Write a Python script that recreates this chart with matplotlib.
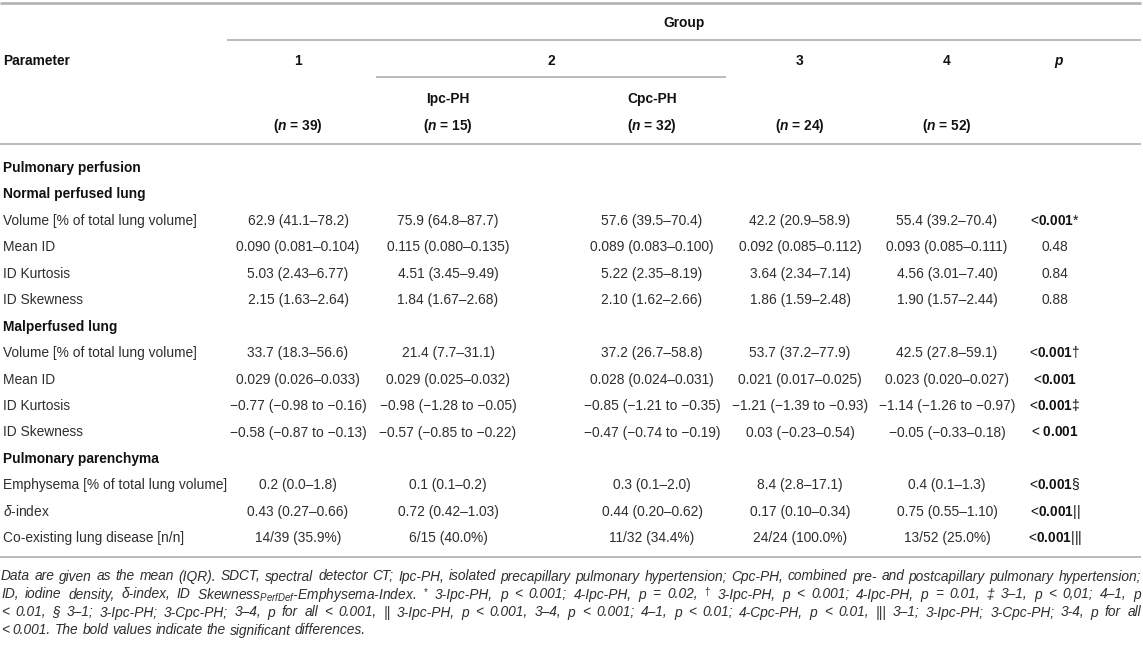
import matplotlib
matplotlib.use("Agg")
import matplotlib.pyplot as plt

plt.rcParams['font.family'] = ['Liberation Sans', 'DejaVu Sans']
plt.rcParams['mathtext.fontset'] = 'custom'
plt.rcParams['mathtext.rm'] = 'Liberation Sans'
plt.rcParams['mathtext.it'] = 'Liberation Sans:italic'
plt.rcParams['mathtext.bf'] = 'Liberation Sans:bold'
try:
    plt.rcParams['mathtext.bfit'] = 'Liberation Sans:bold:italic'
    HAS_BFIT = True
except KeyError:
    HAS_BFIT = False

# ---------------- data ----------------
group_title = "Group"
group_names = ["1", "2", "3", "4"]
subgroup_names = ["", "Ipc-PH", "Cpc-PH", "", ""]
n_counts = [39, 15, 32, 24, 52]

row_labels = ["Pulmonary perfusion", "Normal perfused lung",
              "Volume [% of total lung volume]", "Mean ID", "ID Kurtosis", "ID Skewness",
              "Malperfused lung",
              "Volume [% of total lung volume]", "Mean ID", "ID Kurtosis", "ID Skewness",
              "Pulmonary parenchyma",
              "Emphysema [% of total lung volume]", r"$\mathit{δ}$-index",
              "Co-existing lung disease [n/n]"]
heading_rows = [0, 1, 6, 11]

group1 = [None, None, "62.9 (41.1–78.2)", "0.090 (0.081–0.104)", "5.03 (2.43–6.77)",
          "2.15 (1.63–2.64)", None, "33.7 (18.3–56.6)", "0.029 (0.026–0.033)",
          "−0.77 (−0.98 to −0.16)", "−0.58 (−0.87 to −0.13)", None, "0.2 (0.0–1.8)",
          "0.43 (0.27–0.66)", "14/39 (35.9%)"]
group2_ipc = [None, None, "75.9 (64.8–87.7)", "0.115 (0.080–0.135)", "4.51 (3.45–9.49)",
              "1.84 (1.67–2.68)", None, "21.4 (7.7–31.1)", "0.029 (0.025–0.032)",
              "−0.98 (−1.28 to −0.05)", "−0.57 (−0.85 to −0.22)", None, "0.1 (0.1–0.2)",
              "0.72 (0.42–1.03)", "6/15 (40.0%)"]
group2_cpc = [None, None, "57.6 (39.5–70.4)", "0.089 (0.083–0.100)", "5.22 (2.35–8.19)",
              "2.10 (1.62–2.66)", None, "37.2 (26.7–58.8)", "0.028 (0.024–0.031)",
              "−0.85 (−1.21 to −0.35)", "−0.47 (−0.74 to −0.19)", None, "0.3 (0.1–2.0)",
              "0.44 (0.20–0.62)", "11/32 (34.4%)"]
group3 = [None, None, "42.2 (20.9–58.9)", "0.092 (0.085–0.112)", "3.64 (2.34–7.14)",
          "1.86 (1.59–2.48)", None, "53.7 (37.2–77.9)", "0.021 (0.017–0.025)",
          "−1.21 (−1.39 to −0.93)", "0.03 (−0.23–0.54)", None, "8.4 (2.8–17.1)",
          "0.17 (0.10–0.34)", "24/24 (100.0%)"]
group4 = [None, None, "55.4 (39.2–70.4)", "0.093 (0.085–0.111)", "4.56 (3.01–7.40)",
          "1.90 (1.57–2.44)", None, "42.5 (27.8–59.1)", "0.023 (0.020–0.027)",
          "−1.14 (−1.26 to −0.97)", "−0.05 (−0.33–0.18)", None, "0.4 (0.1–1.3)",
          "0.75 (0.55–1.10)", "13/52 (25.0%)"]
# p column: prefix (regular), value (bold when significant), mark
p_prefix = [None, None, "<", "", "", "", None, "<", "<", "<", "< ", None, "<", "<", "<"]
p_value = [None, None, "0.001", "0.48", "0.84", "0.88", None, "0.001", "0.001", "0.001",
           "0.001", None, "0.001", "0.001", "0.001"]
p_mark = [None, None, "*", "", "", "", None, "†", "", "‡", "", None, "§", "||", "|||"]

footnote_lines = [
    "Data are given as the mean (IQR). SDCT, spectral detector CT; Ipc-PH, isolated precapillary pulmonary hypertension; Cpc-PH, combined pre- and postcapillary pulmonary hypertension;",
    "ID, iodine density, δ-index, ID Skewness$_{PerfDef}$-Emphysema-Index. $^{*}$ 3-Ipc-PH, p < 0.001; 4-Ipc-PH, p = 0.02, $^{†}$ 3-Ipc-PH, p < 0.001; 4-Ipc-PH, p = 0.01, ‡ 3–1, p < 0,01; 4–1, p",
    "< 0.01, § 3–1; 3-Ipc-PH; 3-Cpc-PH; 3–4, p for all < 0.001, || 3-Ipc-PH, p < 0.001, 3–4, p < 0.001; 4–1, p < 0.01; 4-Cpc-PH, p < 0.01, ||| 3–1; 3-Ipc-PH; 3-Cpc-PH; 3-4, p for all",
    "< 0.001. The bold values indicate the significant differences.",
]

# ---------------- layout ----------------
W, H = 1143, 645
fig = plt.figure(figsize=(W / 100, H / 100), dpi=100)
ax = fig.add_axes([0, 0, 1, 1])
ax.set_xlim(0, W)
ax.set_ylim(H, 0)
ax.axis('off')

FS = 9.9
BODY = '#2e2e2e'
HEAD = '#111111'
RULE = '#b5b5b5'
BL = 5.0  # baseline offset from visual centre

col_x = [298, 448, 652, 800, 947]
p_x = 1055
left_x = 3
right_x = 1141

def hline(y, x0, x1, lw=1.3):
    ax.plot([x0, x1], [y, y], color=RULE, lw=lw, solid_capstyle='butt')

hline(3, 0, right_x, lw=2.0)
hline(40, 227, right_x)
hline(77, 376, 726)
hline(144, 0, right_x)
hline(557, 0, right_x)

def t(x, y, s, ha='center', weight='normal', color=BODY, size=FS, style='normal'):
    return ax.text(x, y + BL, s, ha=ha, va='baseline', fontsize=size,
                   fontweight=weight, color=color, fontstyle=style)

# header
t((227 + right_x) / 2, 22, group_title, weight='bold', color=HEAD)
t(left_x, 60, "Parameter", ha='left', weight='bold', color=HEAD)
hdr_x = [col_x[0], (376 + 726) / 2, col_x[3], col_x[4]]
for gx, g in zip(hdr_x, group_names):
    t(gx, 60, g, weight='bold', color=HEAD)
t(p_x + 3, 60, "p", weight='bold', style='italic', color=HEAD)
for cx, sg in zip(col_x, subgroup_names):
    if sg:
        t(cx, 98, sg, weight='bold', color=HEAD)
for cx, n in zip(col_x, n_counts):
    if HAS_BFIT:
        s = r"($\mathbfit{n}$ = %d)" % n
    else:
        s = r"($\mathit{n}$ = %d)" % n
    t(cx, 125, s, weight='bold', color=HEAD)

# body
y0, dy = 167, 26.45
columns = [group1, group2_ipc, group2_cpc, group3, group4]
for i, lab in enumerate(row_labels):
    y = y0 + i * dy
    if i in heading_rows:
        t(left_x, y, lab, ha='left', weight='bold', color=HEAD)
        continue
    t(left_x, y, lab, ha='left')
    for cx, col in zip(col_x, columns):
        t(cx, y, col[i])
    pre, val, mark = p_prefix[i], p_value[i], p_mark[i]
    if pre:
        s = pre + r"$\mathbf{" + val + "}$" + mark
        t(p_x, y, s, color=HEAD)
    else:
        t(p_x, y, val)

# footnote: size fitted to the first line, lines justified
fig.canvas.draw()
renderer = fig.canvas.get_renderer()
FN0 = 9.0
probe = ax.text(0, 0, footnote_lines[0], fontsize=FN0, fontstyle='italic')
nat = probe.get_window_extent(renderer).width
probe.remove()
FN = FN0 * (right_x - left_x - 6) / nat
fn_y = [576, 594, 612, 630]
space_w = 0.278 * FN * 100 / 72
for li, line in enumerate(footnote_lines):
    words = line.split(' ')
    texts = [ax.text(0, fn_y[li] + 4.5, w, ha='left', va='baseline', fontsize=FN,
                     fontstyle='italic', color=BODY) for w in words]
    widths = [tx.get_window_extent(renderer).width for tx in texts]
    if li < len(footnote_lines) - 1 and len(words) > 1:
        gap = (right_x - 1 - sum(widths)) / (len(words) - 1)
    else:
        gap = space_w
    x = 1
    for tx, w in zip(texts, widths):
        tx.set_x(x)
        x += w + gap

fig.savefig("out.png", dpi=100)
